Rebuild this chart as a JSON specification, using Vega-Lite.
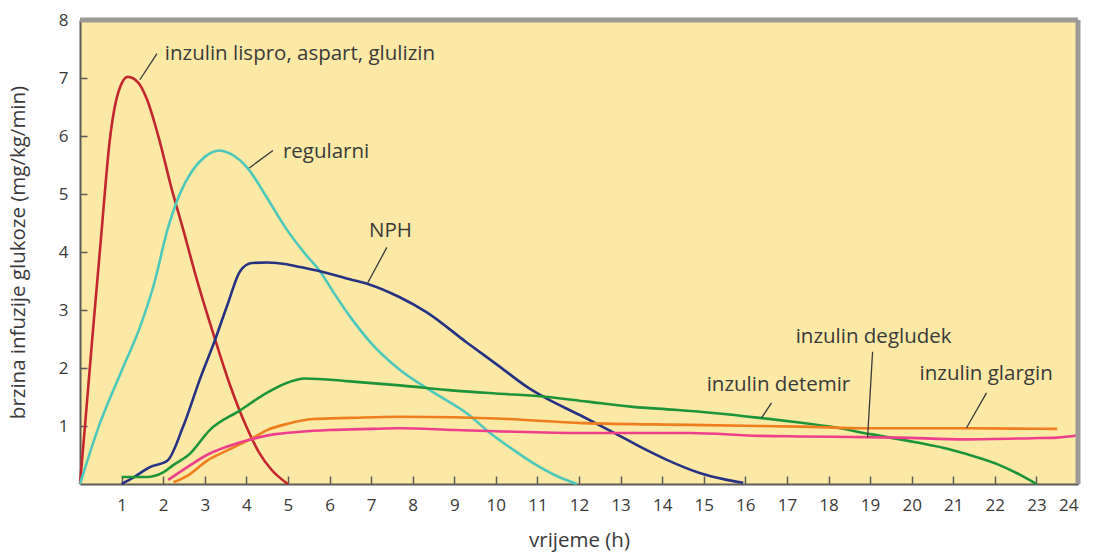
{
  "$schema": "https://vega.github.io/schema/vega-lite/v6.json",
  "width": 998,
  "height": 464,
  "autosize": {"type": "none"},
  "padding": {"left": 80, "top": 20, "right": 18, "bottom": 72},
  "background": "white",
  "view": {"fill": "#fde9a6", "stroke": null},
  "config": {
    "font": "Open Sans",
    "axis": {
      "grid": false,
      "domainColor": "#5e5a55",
      "domainWidth": 2,
      "tickColor": "#5e5a55",
      "tickWidth": 1.5,
      "labelColor": "#3a3a3a",
      "labelFontSize": 17,
      "titleColor": "#3a3a3a",
      "titleFontSize": 20.5,
      "titleFontWeight": "normal"
    }
  },
  "datasets": {
    "curves": [
      {"t": 0, "v": 0, "s": "lispro"},
      {"t": 0.12, "v": 1.0, "s": "lispro"},
      {"t": 0.3, "v": 2.55, "s": "lispro"},
      {"t": 0.5, "v": 4.2, "s": "lispro"},
      {"t": 0.72, "v": 5.95, "s": "lispro"},
      {"t": 0.9, "v": 6.7, "s": "lispro"},
      {"t": 1.15, "v": 7.02, "s": "lispro"},
      {"t": 1.4, "v": 6.92, "s": "lispro"},
      {"t": 1.6, "v": 6.65, "s": "lispro"},
      {"t": 1.92, "v": 5.9, "s": "lispro"},
      {"t": 2.2, "v": 5.1, "s": "lispro"},
      {"t": 2.48, "v": 4.39, "s": "lispro"},
      {"t": 2.8, "v": 3.55, "s": "lispro"},
      {"t": 3.25, "v": 2.49, "s": "lispro"},
      {"t": 3.6, "v": 1.72, "s": "lispro"},
      {"t": 4.0, "v": 0.99, "s": "lispro"},
      {"t": 4.3, "v": 0.55, "s": "lispro"},
      {"t": 4.6, "v": 0.25, "s": "lispro"},
      {"t": 5.0, "v": 0, "s": "lispro"},

      {"t": 0, "v": 0, "s": "regularni"},
      {"t": 0.48, "v": 1.05, "s": "regularni"},
      {"t": 1.0, "v": 1.95, "s": "regularni"},
      {"t": 1.44, "v": 2.7, "s": "regularni"},
      {"t": 1.8, "v": 3.5, "s": "regularni"},
      {"t": 2.09, "v": 4.35, "s": "regularni"},
      {"t": 2.4, "v": 5.0, "s": "regularni"},
      {"t": 2.7, "v": 5.4, "s": "regularni"},
      {"t": 3.0, "v": 5.64, "s": "regularni"},
      {"t": 3.35, "v": 5.75, "s": "regularni"},
      {"t": 3.6, "v": 5.7, "s": "regularni"},
      {"t": 3.85, "v": 5.58, "s": "regularni"},
      {"t": 4.05, "v": 5.43, "s": "regularni"},
      {"t": 4.5, "v": 4.93, "s": "regularni"},
      {"t": 4.97, "v": 4.39, "s": "regularni"},
      {"t": 5.4, "v": 3.98, "s": "regularni"},
      {"t": 5.77, "v": 3.67, "s": "regularni"},
      {"t": 6.1, "v": 3.3, "s": "regularni"},
      {"t": 6.49, "v": 2.89, "s": "regularni"},
      {"t": 7.0, "v": 2.43, "s": "regularni"},
      {"t": 7.69, "v": 1.97, "s": "regularni"},
      {"t": 8.5, "v": 1.58, "s": "regularni"},
      {"t": 9.3, "v": 1.22, "s": "regularni"},
      {"t": 9.86, "v": 0.88, "s": "regularni"},
      {"t": 10.4, "v": 0.6, "s": "regularni"},
      {"t": 10.9, "v": 0.36, "s": "regularni"},
      {"t": 11.4, "v": 0.16, "s": "regularni"},
      {"t": 11.95, "v": 0, "s": "regularni"},

      {"t": 1.0, "v": 0, "s": "NPH"},
      {"t": 1.3, "v": 0.12, "s": "NPH"},
      {"t": 1.68, "v": 0.29, "s": "NPH"},
      {"t": 2.1, "v": 0.4, "s": "NPH"},
      {"t": 2.48, "v": 0.99, "s": "NPH"},
      {"t": 2.88, "v": 1.8, "s": "NPH"},
      {"t": 3.25, "v": 2.49, "s": "NPH"},
      {"t": 3.55, "v": 3.1, "s": "NPH"},
      {"t": 3.85, "v": 3.67, "s": "NPH"},
      {"t": 4.13, "v": 3.81, "s": "NPH"},
      {"t": 4.5, "v": 3.82, "s": "NPH"},
      {"t": 4.97, "v": 3.79, "s": "NPH"},
      {"t": 5.29, "v": 3.74, "s": "NPH"},
      {"t": 5.7, "v": 3.68, "s": "NPH"},
      {"t": 6.49, "v": 3.53, "s": "NPH"},
      {"t": 6.92, "v": 3.45, "s": "NPH"},
      {"t": 7.69, "v": 3.22, "s": "NPH"},
      {"t": 8.34, "v": 2.96, "s": "NPH"},
      {"t": 9.3, "v": 2.44, "s": "NPH"},
      {"t": 10.1, "v": 2.02, "s": "NPH"},
      {"t": 10.74, "v": 1.68, "s": "NPH"},
      {"t": 11.13, "v": 1.51, "s": "NPH"},
      {"t": 12.1, "v": 1.16, "s": "NPH"},
      {"t": 12.8, "v": 0.9, "s": "NPH"},
      {"t": 13.5, "v": 0.63, "s": "NPH"},
      {"t": 14.1, "v": 0.42, "s": "NPH"},
      {"t": 14.9, "v": 0.19, "s": "NPH"},
      {"t": 15.5, "v": 0.08, "s": "NPH"},
      {"t": 15.95, "v": 0.02, "s": "NPH"},

      {"t": 1.0, "v": 0.12, "s": "detemir"},
      {"t": 1.6, "v": 0.12, "s": "detemir"},
      {"t": 2.0, "v": 0.2, "s": "detemir"},
      {"t": 2.25, "v": 0.33, "s": "detemir"},
      {"t": 2.64, "v": 0.52, "s": "detemir"},
      {"t": 3.12, "v": 0.93, "s": "detemir"},
      {"t": 3.85, "v": 1.27, "s": "detemir"},
      {"t": 4.49, "v": 1.57, "s": "detemir"},
      {"t": 5.0, "v": 1.75, "s": "detemir"},
      {"t": 5.4, "v": 1.82, "s": "detemir"},
      {"t": 6.49, "v": 1.77, "s": "detemir"},
      {"t": 7.69, "v": 1.7, "s": "detemir"},
      {"t": 9.0, "v": 1.61, "s": "detemir"},
      {"t": 10.0, "v": 1.56, "s": "detemir"},
      {"t": 11.13, "v": 1.51, "s": "detemir"},
      {"t": 12.2, "v": 1.42, "s": "detemir"},
      {"t": 13.3, "v": 1.33, "s": "detemir"},
      {"t": 14.3, "v": 1.28, "s": "detemir"},
      {"t": 15.3, "v": 1.22, "s": "detemir"},
      {"t": 16.35, "v": 1.14, "s": "detemir"},
      {"t": 17.3, "v": 1.06, "s": "detemir"},
      {"t": 18.03, "v": 0.99, "s": "detemir"},
      {"t": 19.0, "v": 0.86, "s": "detemir"},
      {"t": 20.1, "v": 0.72, "s": "detemir"},
      {"t": 20.9, "v": 0.6, "s": "detemir"},
      {"t": 21.3, "v": 0.52, "s": "detemir"},
      {"t": 22.1, "v": 0.33, "s": "detemir"},
      {"t": 22.6, "v": 0.16, "s": "detemir"},
      {"t": 23.0, "v": 0, "s": "detemir"},

      {"t": 2.25, "v": 0.03, "s": "glargin"},
      {"t": 2.6, "v": 0.15, "s": "glargin"},
      {"t": 3.05, "v": 0.4, "s": "glargin"},
      {"t": 3.6, "v": 0.6, "s": "glargin"},
      {"t": 4.17, "v": 0.8, "s": "glargin"},
      {"t": 4.5, "v": 0.93, "s": "glargin"},
      {"t": 5.0, "v": 1.04, "s": "glargin"},
      {"t": 5.6, "v": 1.12, "s": "glargin"},
      {"t": 6.5, "v": 1.14, "s": "glargin"},
      {"t": 7.69, "v": 1.16, "s": "glargin"},
      {"t": 9.0, "v": 1.15, "s": "glargin"},
      {"t": 10.0, "v": 1.13, "s": "glargin"},
      {"t": 12.1, "v": 1.05, "s": "glargin"},
      {"t": 14.66, "v": 1.02, "s": "glargin"},
      {"t": 16.35, "v": 1.0, "s": "glargin"},
      {"t": 17.3, "v": 0.99, "s": "glargin"},
      {"t": 19.0, "v": 0.96, "s": "glargin"},
      {"t": 21.3, "v": 0.96, "s": "glargin"},
      {"t": 23.5, "v": 0.95, "s": "glargin"},

      {"t": 2.12, "v": 0.07, "s": "degludek"},
      {"t": 2.6, "v": 0.3, "s": "degludek"},
      {"t": 3.05, "v": 0.5, "s": "degludek"},
      {"t": 3.6, "v": 0.66, "s": "degludek"},
      {"t": 4.17, "v": 0.78, "s": "degludek"},
      {"t": 4.7, "v": 0.86, "s": "degludek"},
      {"t": 5.3, "v": 0.9, "s": "degludek"},
      {"t": 6.0, "v": 0.93, "s": "degludek"},
      {"t": 7.0, "v": 0.95, "s": "degludek"},
      {"t": 7.69, "v": 0.96, "s": "degludek"},
      {"t": 9.0, "v": 0.93, "s": "degludek"},
      {"t": 10.0, "v": 0.91, "s": "degludek"},
      {"t": 12.1, "v": 0.88, "s": "degludek"},
      {"t": 14.66, "v": 0.88, "s": "degludek"},
      {"t": 16.35, "v": 0.83, "s": "degludek"},
      {"t": 17.3, "v": 0.82, "s": "degludek"},
      {"t": 19.7, "v": 0.8, "s": "degludek"},
      {"t": 21.3, "v": 0.77, "s": "degludek"},
      {"t": 22.9, "v": 0.79, "s": "degludek"},
      {"t": 23.5, "v": 0.8, "s": "degludek"},
      {"t": 24.0, "v": 0.84, "s": "degludek"}
    ],
    "leaders": [
      {"t": 1.44, "v": 6.97, "t2": 1.85, "v2": 7.42},
      {"t": 4.07, "v": 5.45, "t2": 4.64, "v2": 5.75},
      {"t": 6.92, "v": 3.47, "t2": 7.38, "v2": 4.08},
      {"t": 16.39, "v": 1.14, "t2": 16.63, "v2": 1.4},
      {"t": 18.94, "v": 0.8, "t2": 19.06, "v2": 2.28},
      {"t": 21.32, "v": 0.97, "t2": 21.8, "v2": 1.57}
    ],
    "labels": [
      {"t": 2.04, "v": 7.42, "label": "inzulin lispro, aspart, glulizin"},
      {"t": 4.88, "v": 5.73, "label": "regularni"},
      {"t": 6.95, "v": 4.36, "label": "NPH"},
      {"t": 17.21, "v": 2.54, "label": "inzulin degludek"},
      {"t": 15.07, "v": 1.7, "label": "inzulin detemir"},
      {"t": 20.19, "v": 1.89, "label": "inzulin glargin"}
    ],
    "frame": [{"top": 8, "right": 24}]
  },
  "layer": [
    {
      "data": {"name": "curves"},
      "mark": {"type": "line", "interpolate": "monotone", "strokeWidth": 2.6},
      "encoding": {
        "x": {
          "field": "t",
          "type": "quantitative",
          "scale": {"domain": [0, 24], "nice": false},
          "axis": {
            "title": "vrijeme (h)",
            "values": [1,2,3,4,5,6,7,8,9,10,11,12,13,14,15,16,17,18,19,20,21,22,23,24],
            "format": "d",
            "tickSize": -8,
            "labelPadding": 21,
            "titlePadding": 17
          }
        },
        "y": {
          "field": "v",
          "type": "quantitative",
          "scale": {"domain": [0, 8], "nice": false},
          "axis": {
            "title": "brzina infuzije glukoze (mg/kg/min)",
            "values": [1,2,3,4,5,6,7,8],
            "format": "d",
            "tickSize": -7,
            "labelPadding": 19,
            "titlePadding": 30
          }
        },
        "color": {
          "field": "s",
          "type": "nominal",
          "scale": {
            "domain": ["lispro", "regularni", "NPH", "detemir", "glargin", "degludek"],
            "range": ["#c4262e", "#4ec8bb", "#283282", "#1e9438", "#f07d1e", "#ee3f8c"]
          },
          "legend": null
        }
      }
    },
    {
      "data": {"name": "leaders"},
      "mark": {"type": "rule", "color": "#3a3a3a", "strokeWidth": 1.3},
      "encoding": {
        "x": {"field": "t", "type": "quantitative"},
        "y": {"field": "v", "type": "quantitative"},
        "x2": {"field": "t2"},
        "y2": {"field": "v2"}
      }
    },
    {
      "data": {"name": "labels"},
      "mark": {"type": "text", "align": "left", "baseline": "middle", "fontSize": 20.5, "color": "#3a3a3a"},
      "encoding": {
        "x": {"field": "t", "type": "quantitative"},
        "y": {"field": "v", "type": "quantitative"},
        "text": {"field": "label"}
      }
    },
    {
      "data": {"name": "frame"},
      "mark": {"type": "rule", "color": "#9c9a97", "strokeWidth": 5},
      "encoding": {"y": {"field": "top", "type": "quantitative"}}
    },
    {
      "data": {"name": "frame"},
      "mark": {"type": "rule", "color": "#9c9a97", "strokeWidth": 5},
      "encoding": {"x": {"field": "right", "type": "quantitative"}}
    }
  ]
}
